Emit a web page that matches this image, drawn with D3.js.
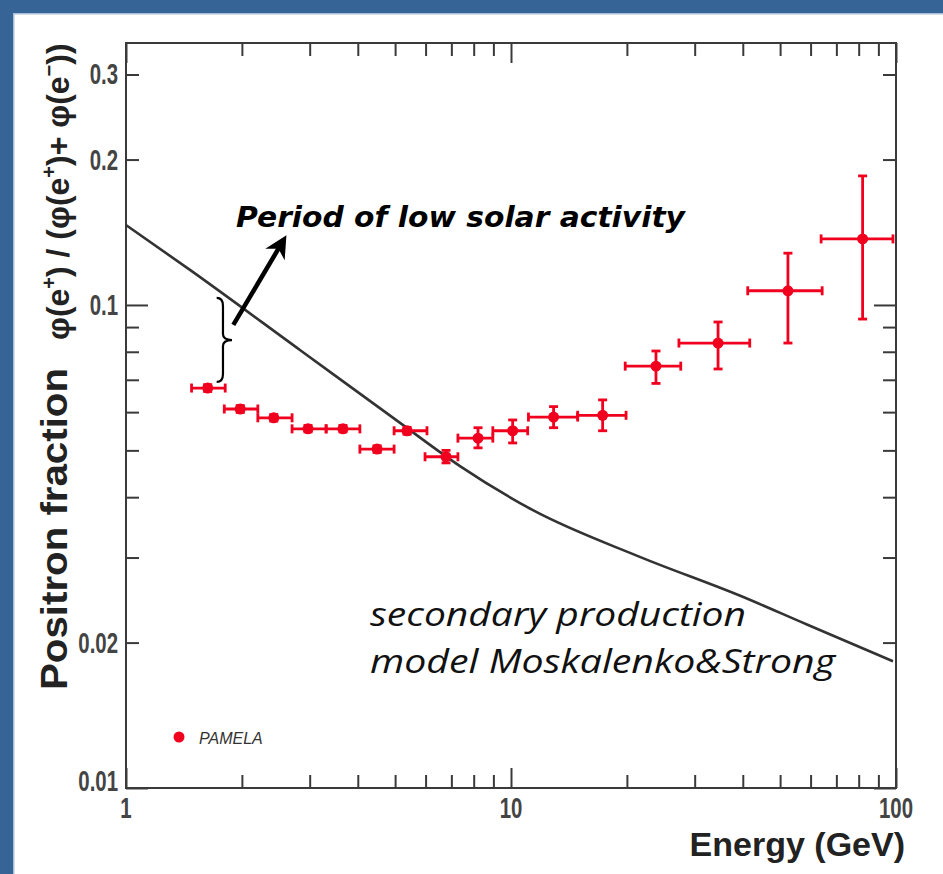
<!DOCTYPE html>
<html><head><meta charset="utf-8">
<script src="https://cdn.jsdelivr.net/npm/d3@7"></script>
<style>html,body{margin:0;padding:0;background:#fff;}svg{display:block}</style>
</head><body>
<svg id="chart" width="943" height="874"></svg>
<script>
// ---- Data ----
const energy   = [1.63, 1.98, 2.42, 2.97, 3.66, 4.49, 5.37, 6.78, 8.21, 10.1, 12.9, 17.3, 23.8, 34.5, 52.4, 81.9];
const energyLo = [1.48, 1.80, 2.20, 2.70, 3.31, 4.05, 4.97, 5.98, 7.28, 8.97, 11.1, 14.9, 19.8, 27.3, 41.2, 63.9];
const energyHi = [1.81, 2.20, 2.70, 3.31, 4.05, 4.97, 6.05, 7.28, 8.97, 11.05, 14.9, 19.9, 27.6, 41.7, 64.3, 98.2];
const fraction   = [0.0673, 0.0609, 0.0584, 0.0554, 0.0554, 0.0503, 0.0549, 0.0485, 0.0530, 0.0549, 0.0586, 0.0591, 0.0747, 0.0834, 0.107, 0.137];
const fractionLo = [0.0662, 0.0599, 0.0575, 0.0546, 0.0546, 0.0495, 0.0540, 0.0471, 0.0506, 0.0518, 0.0557, 0.0549, 0.0688, 0.0737, 0.0834, 0.0935];
const fractionHi = [0.0684, 0.0619, 0.0593, 0.0563, 0.0563, 0.0511, 0.0558, 0.0500, 0.0557, 0.0578, 0.0616, 0.0636, 0.0803, 0.0922, 0.128, 0.185];

const modelEnergy   = [1, 1.466, 2.83, 5.15, 7.37, 11.4, 21.6, 39.4, 58.7, 98.2];
const modelFraction = [0.1464, 0.1182, 0.0807, 0.0570, 0.0464, 0.0376, 0.0301, 0.0250, 0.0218, 0.0183];

const xTickValues = [1,2,3,4,5,6,7,8,9,10,20,30,40,50,60,70,80,90,100];
const xTickLabels = ['1','10','100'];
const xLabelValues = [1,10,100];
const yTickValues = [0.01,0.02,0.03,0.04,0.05,0.06,0.07,0.08,0.09,0.1,0.2,0.3];
const yTickLabels = ['0.01','0.02','0.1','0.2','0.3'];
const yLabelValues = [0.01,0.02,0.1,0.2,0.3];

const seriesName = 'PAMELA';
const xTitle = 'Energy (GeV)';

// ---- Setup ----
const W = 943, H = 874;
const svg = d3.select('#chart');
const BLUE = '#376497';
const RED = '#f0001e';

svg.append('rect').attr('width', W).attr('height', H).attr('fill', '#fff');
svg.append('rect').attr('x', 0).attr('y', 0).attr('width', W).attr('height', 13).attr('fill', BLUE);
svg.append('rect').attr('x', 0).attr('y', 0).attr('width', 13).attr('height', H).attr('fill', BLUE);
svg.append('path').attr('d', 'M13.75,874 V13.75 H943').attr('stroke', '#a9bfd9').attr('stroke-width', 1.5).attr('fill', 'none');

const L = 126, R = 896, T = 43, B = 788;
const x = d3.scaleLog().domain([1, 100]).range([L, R]);
const y = d3.scaleLog().domain([0.01, 0.3486]).range([B, T]);

const isMajor = d => Math.abs(Math.log10(d) - Math.round(Math.log10(d))) < 1e-9;

function drawAxis(gen, transform, vals, attr, majLen, minLen) {
  const g = svg.append('g').attr('transform', transform)
    .call(gen.tickValues(vals).tickFormat('').tickSizeOuter(0).tickSize(-1));
  g.select('.domain').remove();
  g.selectAll('.tick line')
    .attr('stroke', '#3a3a3a').attr('stroke-width', 2)
    .attr(attr, function(d) { return +d3.select(this).attr(attr) * (isMajor(d) ? majLen : minLen); });
  return g;
}
drawAxis(d3.axisBottom(x), `translate(0,${B})`, xTickValues, 'y2', 20, 13);
drawAxis(d3.axisTop(x), `translate(0,${T})`, xTickValues, 'y2', 20, 13);
drawAxis(d3.axisLeft(y), `translate(${L},0)`, yTickValues, 'x2', 22, 13);
drawAxis(d3.axisRight(y), `translate(${R},0)`, yTickValues, 'x2', 22, 13);

svg.append('rect').attr('x', L).attr('y', T).attr('width', R - L).attr('height', B - T)
  .attr('fill', 'none').attr('stroke', '#3a3a3a').attr('stroke-width', 2);

// tick labels (slightly condensed look like the reference)
svg.append('g').selectAll('text').data(xLabelValues).join('text')
  .attr('transform', d => `translate(${x(d)},${B + 30}) scale(0.85,1.2)`)
  .attr('text-anchor', 'middle')
  .attr('font-family', 'Liberation Sans, Arial, sans-serif').attr('font-weight', 'bold')
  .attr('font-size', 24).attr('fill', '#444')
  .text((d, i) => xTickLabels[i]);

svg.append('g').selectAll('text').data(yLabelValues).join('text')
  .attr('transform', d => `translate(${L - 8},${y(d) + (d === 0.01 ? 3 : 10)}) scale(0.85,1.2)`)
  .attr('text-anchor', 'end')
  .attr('font-family', 'Liberation Sans, Arial, sans-serif').attr('font-weight', 'bold')
  .attr('font-size', 24).attr('fill', '#444')
  .text((d, i) => yTickLabels[i]);

// axis titles
svg.append('text').attr('x', 905).attr('y', 856).attr('text-anchor', 'end')
  .attr('font-family', 'Liberation Sans, Arial, sans-serif').attr('font-weight', 'bold')
  .attr('font-size', 34).attr('fill', '#222').text(xTitle);

svg.append('text').attr('transform', 'translate(67,690) rotate(-90)')
  .attr('font-family', 'Liberation Sans, Arial, sans-serif').attr('font-weight', 'bold')
  .attr('font-size', 36).attr('textLength', 322).attr('lengthAdjust', 'spacingAndGlyphs')
  .attr('fill', '#222').text('Positron fraction');

const yt = svg.append('text').attr('transform', 'translate(69,340) rotate(-90)')
  .attr('font-family', 'Liberation Sans, Arial, sans-serif').attr('font-weight', 'bold')
  .attr('font-size', 32).attr('fill', '#222');
const parts = [['φ(e',0],['+',1],[') / (φ(e',0],['+',1],[')+ φ(e',0],['−',1],['))',0]];
let prevSup = 0;
parts.forEach(([t, sup]) => {
  const ts = yt.append('tspan').text(t);
  if (sup && !prevSup) ts.attr('dy', -13).attr('font-size', 20);
  else if (!sup && prevSup) ts.attr('dy', 13);
  prevSup = sup;
});

// model curve
const modelData = modelEnergy.map((e, i) => [e, modelFraction[i]]);
svg.append('path').datum(modelData)
  .attr('d', d3.line().x(d => x(d[0])).y(d => y(d[1])).curve(d3.curveMonotoneX))
  .attr('fill', 'none').attr('stroke', '#333').attr('stroke-width', 2.6);

// data points
const pts = energy.map((e, i) => ({e, f: fraction[i], el: energyLo[i], eh: energyHi[i], fl: fractionLo[i], fh: fractionHi[i]}));
const gp = svg.append('g').attr('stroke', RED).attr('stroke-width', 2.8).attr('fill', RED);
const cap = 4.5;
pts.forEach(p => {
  const cx = x(p.e), cy = y(p.f);
  gp.append('line').attr('x1', x(p.el)).attr('x2', x(p.eh)).attr('y1', cy).attr('y2', cy);
  gp.append('line').attr('x1', x(p.el)).attr('x2', x(p.el)).attr('y1', cy - cap).attr('y2', cy + cap);
  gp.append('line').attr('x1', x(p.eh)).attr('x2', x(p.eh)).attr('y1', cy - cap).attr('y2', cy + cap);
  gp.append('line').attr('x1', cx).attr('x2', cx).attr('y1', y(p.fl)).attr('y2', y(p.fh));
  gp.append('line').attr('x1', cx - cap).attr('x2', cx + cap).attr('y1', y(p.fl)).attr('y2', y(p.fl));
  gp.append('line').attr('x1', cx - cap).attr('x2', cx + cap).attr('y1', y(p.fh)).attr('y2', y(p.fh));
  gp.append('circle').attr('cx', cx).attr('cy', cy).attr('r', 5.5).attr('stroke', 'none');
});

// legend
svg.append('circle').attr('cx', 179).attr('cy', 737).attr('r', 5.5).attr('fill', RED);
svg.append('text').attr('x', 199).attr('y', 744)
  .attr('font-family', 'Liberation Sans, Arial, sans-serif').attr('font-style', 'italic')
  .attr('font-size', 16).attr('fill', '#333').text(seriesName);

// annotations
svg.append('text').attr('x', 236).attr('y', 227)
  .attr('font-family', 'DejaVu Sans, Verdana, sans-serif').attr('font-weight', 'bold').attr('font-style', 'italic')
  .attr('font-size', 29).attr('textLength', 449).attr('lengthAdjust', 'spacingAndGlyphs')
  .attr('fill', '#000').text('Period of low solar activity');

svg.append('text').attr('x', 370).attr('y', 626)
  .attr('font-family', 'Open Sans, sans-serif').attr('font-style', 'italic')
  .attr('font-size', 32).attr('textLength', 376).attr('lengthAdjust', 'spacingAndGlyphs')
  .attr('fill', '#111').text('secondary production');
svg.append('text').attr('x', 370).attr('y', 673)
  .attr('font-family', 'Open Sans, sans-serif').attr('font-style', 'italic')
  .attr('font-size', 32).attr('textLength', 465).attr('lengthAdjust', 'spacingAndGlyphs')
  .attr('fill', '#111').text('model Moskalenko&Strong');

// brace (data-anchored)
const bxL = x(1.72), bxS = x(1.786), bxT = x(1.885);
const byT = y(0.1034), byM = y(0.0846), byB = y(0.0693);
svg.append('path')
  .attr('d', `M${bxL},${byT} Q${bxS},${byT} ${bxS},${byT + 8} L${bxS},${byM - 6} Q${bxS},${byM} ${bxT},${byM} Q${bxS},${byM} ${bxS},${byM + 6} L${bxS},${byB - 8} Q${bxS},${byB} ${bxL},${byB}`)
  .attr('fill', 'none').attr('stroke', '#000').attr('stroke-width', 2.2);

// arrow
svg.append('defs').append('marker').attr('id', 'ah').attr('viewBox', '0 0 10 10')
  .attr('refX', 6).attr('refY', 5).attr('markerWidth', 5).attr('markerHeight', 5)
  .attr('orient', 'auto')
  .append('path').attr('d', 'M0,0 L10,5 L0,10 L3,5 Z').attr('fill', '#000');
svg.append('line')
  .attr('x1', x(1.90)).attr('y1', y(0.0909)).attr('x2', x(2.54)).attr('y2', y(0.1344))
  .attr('stroke', '#000').attr('stroke-width', 4.5).attr('marker-end', 'url(#ah)');
</script>
</body></html>
